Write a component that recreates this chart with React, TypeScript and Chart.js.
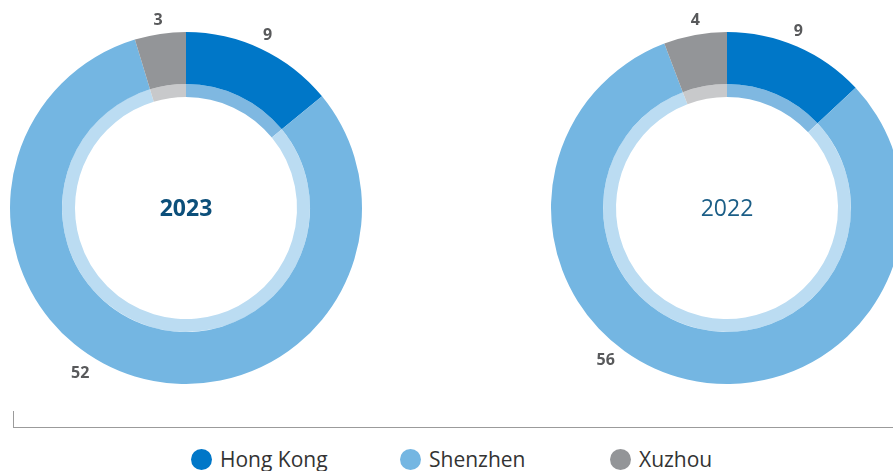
import React, { useEffect, useRef } from "react";
import { Chart, registerables } from "chart.js";

Chart.register(...registerables);

const categories = ["Hong Kong", "Shenzhen", "Xuzhou"];
const years = ["2023", "2022"];
const values2023 = [9, 52, 3];
const values2022 = [9, 56, 4];

const outerColors = ["#0077C8", "#74B6E2", "#939598"];
const innerColors = ["#7FB8E1", "#BBDCF2", "#C8C9CB"];

type LabelPos = { f: number; r: number };

function Donut(props: {
  year: string;
  values: number[];
  bold: boolean;
  centerColor: string;
  left: number;
  padLeft: number;
  labelPos: LabelPos[];
}) {
  const ref = useRef<HTMLCanvasElement | null>(null);
  useEffect(() => {
    if (!ref.current) return;
    const { year, values, bold, centerColor, labelPos, padLeft } = props;
    const plugin = {
      id: "donutText",
      afterDraw(chart: any) {
        const ctx = chart.ctx;
        const meta = chart.getDatasetMeta(0);
        ctx.save();
        ctx.textAlign = "center";
        ctx.textBaseline = "middle";
        ctx.fillStyle = "#58595B";
        ctx.font = "bold 16px 'Open Sans'";
        meta.data.forEach((arc: any, i: number) => {
          const p = labelPos[i];
          const a = arc.startAngle + p.f * (arc.endAngle - arc.startAngle);
          ctx.fillText(String(values[i]), arc.x + p.r * Math.cos(a), arc.y + p.r * Math.sin(a));
        });
        const a0 = meta.data[0];
        ctx.fillStyle = centerColor;
        ctx.font = (bold ? "bold " : "") + "23px 'Open Sans'";
        ctx.fillText(year, a0.x, a0.y + 1);
        ctx.restore();
      },
    };
    const chart = new Chart(ref.current, {
      type: "doughnut",
      data: {
        labels: categories,
        datasets: [
          { data: values, backgroundColor: outerColors, borderWidth: 0, weight: 52 } as any,
          { data: values, backgroundColor: innerColors, borderWidth: 0, weight: 13 } as any,
        ],
      },
      options: {
        animation: false,
        responsive: false,
        events: [],
        cutout: 111,
        layout: { padding: { left: padLeft, right: 20 - padLeft, top: 32, bottom: 32 } },
        plugins: { legend: { display: false }, tooltip: { enabled: false } },
      } as any,
      plugins: [plugin],
    });
    return () => chart.destroy();
  }, []);
  return (
    <canvas
      ref={ref}
      width={372}
      height={416}
      style={{ position: "absolute", left: props.left, top: 0, width: 372, height: 416 }}
    />
  );
}

export default function App() {
  const legendLeft = [191, 400, 610];
  return (
    <div
      style={{
        position: "fixed",
        left: 0,
        top: 0,
        width: 893,
        height: 471,
        overflow: "hidden",
        background: "#ffffff",
      }}
    >
      <Donut
        year={years[0]}
        values={values2023}
        bold={true}
        centerColor="#0C4F7A"
        left={0}
        padLeft={10}
        labelPos={[
          { f: 0.5, r: 191 },
          { f: 0.554, r: 196 },
          { f: 0.5, r: 190 },
        ]}
      />
      <Donut
        year={years[1]}
        values={values2022}
        bold={false}
        centerColor="#1B5E87"
        left={540}
        padLeft={11}
        labelPos={[
          { f: 0.47, r: 190 },
          { f: 0.587, r: 195 },
          { f: 0.54, r: 190 },
        ]}
      />
      <div style={{ position: "absolute", left: 13, top: 427, width: 880, height: 1, background: "#9B9B9B" }} />
      <div style={{ position: "absolute", left: 13, top: 411, width: 1, height: 17, background: "#9B9B9B" }} />
      {categories.map((c, i) => (
        <div
          key={c}
          style={{
            position: "absolute",
            left: legendLeft[i],
            top: 448,
            height: 22,
            display: "flex",
            alignItems: "center",
            fontFamily: "'Open Sans', sans-serif",
            fontSize: 21,
            color: "#333333",
            whiteSpace: "nowrap",
          }}
        >
          <span
            style={{
              display: "inline-block",
              width: 21,
              height: 21,
              borderRadius: "50%",
              background: outerColors[i],
              marginRight: 8,
            }}
          />
          <span style={{ lineHeight: "22px" }}>{c}</span>
        </div>
      ))}
    </div>
  );
}
